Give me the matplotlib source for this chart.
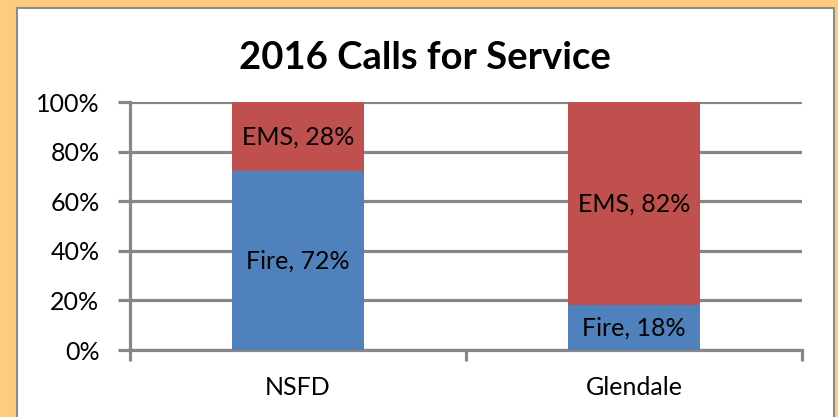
import matplotlib.pyplot as plt
from matplotlib.patches import Rectangle

categories = ['NSFD', 'Glendale']
fire = [72, 18]
ems = [28, 82]
yticks = [0, 20, 40, 60, 80, 100]

BLUE = '#4F81BD'
RED = '#C0504D'
GRID = '#868686'

plt.rcParams['font.family'] = ['Lato', 'DejaVu Sans']

fig = plt.figure(figsize=(8.38, 4.17), dpi=100)
fig.patch.set_facecolor('#FFCB7D')
fig.patches.append(Rectangle((17 / 838, -0.1), 817 / 838, 1.1 - 8 / 417,
                             transform=fig.transFigure, facecolor='white',
                             edgecolor='#8C8C8C', linewidth=1.5, zorder=-5))

ax = fig.add_axes([130 / 838, 1 - 350 / 417, 672 / 838, 248 / 417])
ax.set_zorder(2)
ax.set_facecolor('none')
x = range(len(categories))
ax.bar(x, fire, width=0.393, color=BLUE, zorder=3)
ax.bar(x, ems, bottom=fire, width=0.393, color=RED, zorder=3)

for i in x:
    ax.text(i, fire[i] / 2, f'Fire, {fire[i]}%', ha='center', va='center',
            fontsize=18, color='black', zorder=4)
    ax.text(i, fire[i] + ems[i] / 2, f'EMS, {ems[i]}%', ha='center', va='center',
            fontsize=18, color='black', zorder=4)

ax.set_xlim(-0.5, 1.5)
ax.set_ylim(0, 100)
ax.set_yticks(yticks)
ax.set_yticklabels([f'{v}%' for v in yticks], fontsize=18)
ax.yaxis.grid(True, color=GRID, linewidth=2.3, zorder=1)
ax.set_xticks([-0.5, 0.5, 1.5])
ax.set_xticklabels([])
ax.set_xticks([0, 1], minor=True)
ax.set_xticklabels(categories, minor=True, fontsize=18)
ax.tick_params(axis='x', which='minor', length=0, pad=19)
ax.tick_params(axis='x', which='major', length=8, width=2.3, color=GRID)
ax.tick_params(axis='y', length=9, width=2.3, color=GRID, pad=13)
for s in ['top', 'right']:
    ax.spines[s].set_visible(False)
ax.spines['left'].set_color(GRID)
ax.spines['left'].set_linewidth(2.3)
ax.spines['bottom'].set_color(GRID)
ax.spines['bottom'].set_linewidth(2.3)

fig.text(0.507, 1 - 58 / 417, '2016 Calls for Service', ha='center', va='center',
         fontsize=27.5, fontweight='bold')

fig.savefig('out.png', dpi=100, facecolor=fig.get_facecolor())
